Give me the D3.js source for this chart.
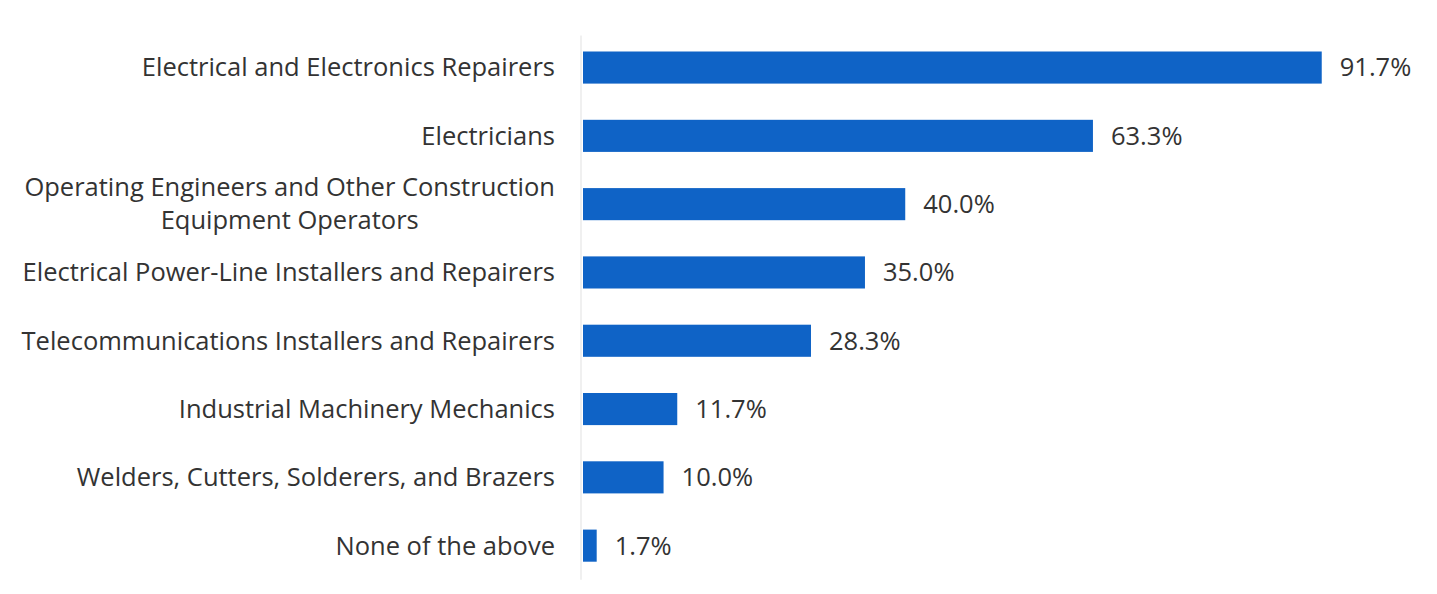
<!DOCTYPE html>
<html>
<head>
<meta charset="utf-8">
<script src="https://cdn.jsdelivr.net/npm/d3@7"></script>
<style>
  html, body { margin: 0; padding: 0; background: #ffffff; }
  svg { display: block; }
</style>
</head>
<body>
<svg id="chart" width="1437" height="594"></svg>
<script>
// Occupations, top to bottom, with the share of respondents for each
const categories = [
  "Electrical and Electronics Repairers",
  "Electricians",
  "Operating Engineers and Other Construction\nEquipment Operators",
  "Electrical Power-Line Installers and Repairers",
  "Telecommunications Installers and Repairers",
  "Industrial Machinery Mechanics",
  "Welders, Cutters, Solderers, and Brazers",
  "None of the above"
];
const values = [91.7, 63.3, 40.0, 35.0, 28.3, 11.7, 10.0, 1.7];

const svg = d3.select("#chart");
const fontFamily = "'Open Sans', 'Noto Sans', sans-serif";
const fontSize = 25.5;
const textColor = "#333333";
const barColor = "#0f63c6";

const axisX = 581;
const x = d3.scaleLinear().domain([0, 100]).range([583, 1388.6]);
const y = d3.scaleBand()
  .domain(categories)
  .range([33.4, 579.8])
  .paddingInner(0.53)
  .paddingOuter(0.265);

// faint category axis line
svg.append("line")
  .attr("x1", axisX).attr("x2", axisX)
  .attr("y1", y.range()[0] + 2).attr("y2", y.range()[1])
  .attr("stroke", "#e6e6e6").attr("stroke-width", 1.2);

const rows = categories.map((c, i) => ({ cat: c, val: values[i] }));

svg.append("g").selectAll("rect")
  .data(rows)
  .join("rect")
  .attr("x", x(0))
  .attr("y", d => y(d.cat))
  .attr("width", d => x(d.val) - x(0))
  .attr("height", y.bandwidth())
  .attr("fill", barColor);

// value labels
svg.append("g").selectAll("text")
  .data(rows)
  .join("text")
  .attr("x", d => x(d.val) + 18)
  .attr("y", d => y(d.cat) + y.bandwidth() / 2)
  .attr("dy", "0.35em")
  .attr("font-family", fontFamily)
  .attr("font-size", fontSize)
  .attr("fill", textColor)
  .text(d => d.val.toFixed(1) + "%");

// category labels (multi-line labels centred as a block, block right-aligned)
const labelRight = 555;
const lineH = 33;
const labelG = svg.append("g")
  .attr("font-family", fontFamily)
  .attr("font-size", fontSize)
  .attr("fill", textColor);

rows.forEach(d => {
  const lines = d.cat.split("\n");
  const cy = y(d.cat) + y.bandwidth() / 2;
  if (lines.length === 1) {
    labelG.append("text")
      .attr("x", labelRight)
      .attr("y", cy)
      .attr("dy", "0.35em")
      .attr("text-anchor", "end")
      .text(lines[0]);
  } else {
    const t = labelG.append("text").attr("text-anchor", "middle");
    const spans = lines.map((l, k) => t.append("tspan")
      .attr("y", cy - 1 + (k - (lines.length - 1) / 2) * lineH)
      .attr("dy", "0.35em")
      .text(l));
    const w = d3.max(spans, s => s.node().getComputedTextLength());
    spans.forEach(s => s.attr("x", labelRight - w / 2));
  }
});
</script>
</body>
</html>
